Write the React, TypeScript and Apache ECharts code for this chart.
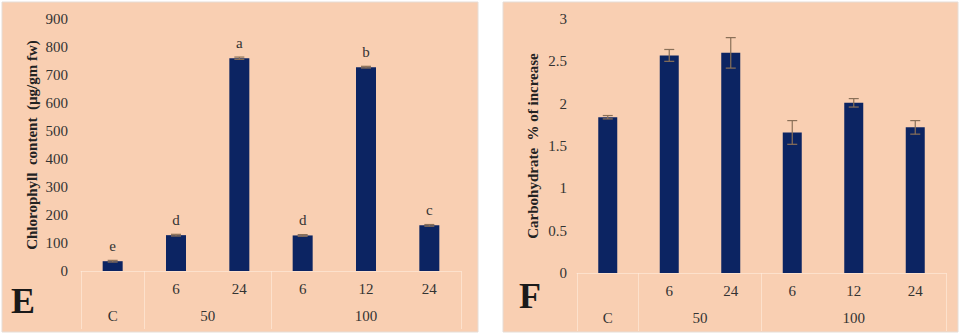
import React, { useEffect, useRef } from "react";
import * as echarts from "echarts";

const subLabels = ["", "6", "24", "6", "12", "24"];
const groupPositions = [0, 1.5, 4];
const groupLabels = ["C", "50", "100"];
const groupBoundaries = [-0.5, 0.5, 2.5, 5.5];

const chlorophyll = [35, 128, 760, 127, 728, 163];
const chlorophyllErr = [3, 3, 4, 3, 3, 3];
const chlorophyllLetters = ["e", "d", "a", "d", "b", "c"];
const chlorophyllTicks = [0, 100, 200, 300, 400, 500, 600, 700, 800, 900];

const carbohydrate = [1.84, 2.57, 2.6, 1.66, 2.01, 1.72];
const carbohydrateErr = [0.02, 0.07, 0.18, 0.14, 0.05, 0.08];
const carbohydrateTicks = [0, 0.5, 1, 1.5, 2, 2.5, 3];

const SERIF = "'Liberation Serif', 'DejaVu Serif', serif";
const BAR = "#0c2462";
const PEACH = "#f9cfb2";
const TXT = "#333333";
const LINE = "rgba(255,236,222,0.6)";

function errorSeries(values: number[], errs: number[], xAxisIndex: number, yAxisIndex: number) {
  return {
    type: "custom",
    xAxisIndex,
    yAxisIndex,
    z: 5,
    silent: true,
    data: values.map((v, i) => [i, v - errs[i], v + errs[i]]),
    renderItem: (params: any, api: any) => {
      const lo = api.coord([api.value(0), api.value(1)]);
      const hi = api.coord([api.value(0), api.value(2)]);
      const w = 5;
      const style = { stroke: "#8a7058", lineWidth: 1.2 };
      return {
        type: "group",
        children: [
          { type: "line", shape: { x1: hi[0], y1: hi[1], x2: lo[0], y2: lo[1] }, style },
          { type: "line", shape: { x1: hi[0] - w, y1: hi[1], x2: hi[0] + w, y2: hi[1] }, style },
          { type: "line", shape: { x1: lo[0] - w, y1: lo[1], x2: lo[0] + w, y2: lo[1] }, style },
        ],
      };
    },
  };
}

function catAxis(gridIndex: number) {
  return {
    type: "category",
    gridIndex,
    data: subLabels,
    axisLine: { show: true, lineStyle: { color: LINE, width: 1 } },
    axisTick: { show: false },
    axisLabel: { color: TXT, fontFamily: SERIF, fontSize: 15, margin: 10, interval: 0 },
  };
}

function groupAxis(gridIndex: number) {
  return {
    type: "value",
    gridIndex,
    position: "bottom",
    min: -0.5,
    max: 5.5,
    interval: 0.5,
    axisLine: { show: false },
    splitLine: { show: false },
    axisTick: {
      show: true,
      length: 58,
      customValues: groupBoundaries,
      lineStyle: { color: LINE, width: 1 },
    },
    axisLabel: {
      show: true,
      customValues: groupPositions,
      color: TXT,
      fontFamily: SERIF,
      fontSize: 15,
      margin: 37,
      formatter: (v: number) => {
        const k = groupPositions.findIndex((p) => Math.abs(p - v) < 1e-6);
        return k >= 0 ? groupLabels[k] : "";
      },
    },
  };
}

export default function App() {
  const ref = useRef<HTMLDivElement>(null);
  useEffect(() => {
    if (!ref.current) return;
    const chart = echarts.init(ref.current, null, { renderer: "svg" });
    chart.setOption({
      animation: false,
      backgroundColor: "#ffffff",
      graphic: [
        { type: "rect", z: -10, shape: { x: 2, y: 2, width: 476, height: 330 }, style: { fill: PEACH, stroke: "#e6ddd6", lineWidth: 1 } },
        { type: "rect", z: -10, shape: { x: 503, y: 2, width: 455, height: 330 }, style: { fill: PEACH, stroke: "#e6ddd6", lineWidth: 1 } },
        { type: "text", x: 11, y: 283, style: { text: "E", fontFamily: SERIF, fontWeight: "bold", fontSize: 36, fill: "#1a1a1a" } },
        { type: "text", x: 519, y: 278, style: { text: "F", fontFamily: SERIF, fontWeight: "bold", fontSize: 36, fill: "#1a1a1a" } },
      ],
      grid: [
        { left: 81, right: 503, top: 19, bottom: 65 },
        { left: 577, right: 18, top: 19, bottom: 63 },
      ],
      xAxis: [catAxis(0), groupAxis(0), catAxis(1), groupAxis(1)],
      yAxis: [
        {
          type: "value",
          gridIndex: 0,
          min: 0,
          max: 900,
          interval: 100,
          name: "Chlorophyll  content  (µg/gm fw)",
          nameLocation: "middle",
          nameGap: 42,
          nameTextStyle: { fontFamily: SERIF, fontWeight: "bold", fontSize: 15, color: "#222" },
          axisLine: { show: false },
          axisTick: { show: false },
          splitLine: { show: false },
          axisLabel: {
            color: TXT,
            fontFamily: SERIF,
            fontSize: 15,
            margin: 13,
            customValues: chlorophyllTicks,
          },
        },
        {
          type: "value",
          gridIndex: 1,
          min: 0,
          max: 3,
          interval: 0.5,
          name: "Carbohydrate  % of increase",
          nameLocation: "middle",
          nameGap: 37,
          nameTextStyle: { fontFamily: SERIF, fontWeight: "bold", fontSize: 15, color: "#222" },
          axisLine: { show: false },
          axisTick: { show: false },
          splitLine: { show: false },
          axisLabel: {
            color: TXT,
            fontFamily: SERIF,
            fontSize: 15,
            margin: 10,
            customValues: carbohydrateTicks,
          },
        },
      ],
      series: [
        {
          type: "bar",
          xAxisIndex: 0,
          yAxisIndex: 0,
          barWidth: 20,
          itemStyle: { color: BAR },
          data: chlorophyll,
          label: {
            show: true,
            position: "top",
            distance: 8,
            color: TXT,
            fontFamily: SERIF,
            fontSize: 15,
            formatter: (p: any) => chlorophyllLetters[p.dataIndex],
          },
        },
        errorSeries(chlorophyll, chlorophyllErr, 0, 0),
        {
          type: "bar",
          xAxisIndex: 2,
          yAxisIndex: 1,
          barWidth: 19,
          itemStyle: { color: BAR },
          data: carbohydrate,
        },
        errorSeries(carbohydrate, carbohydrateErr, 2, 1),
      ],
    });
    return () => chart.dispose();
  }, []);
  return (
    <div
      ref={ref}
      style={{ position: "fixed", left: 0, top: 0, width: 964, height: 336 }}
    />
  );
}
